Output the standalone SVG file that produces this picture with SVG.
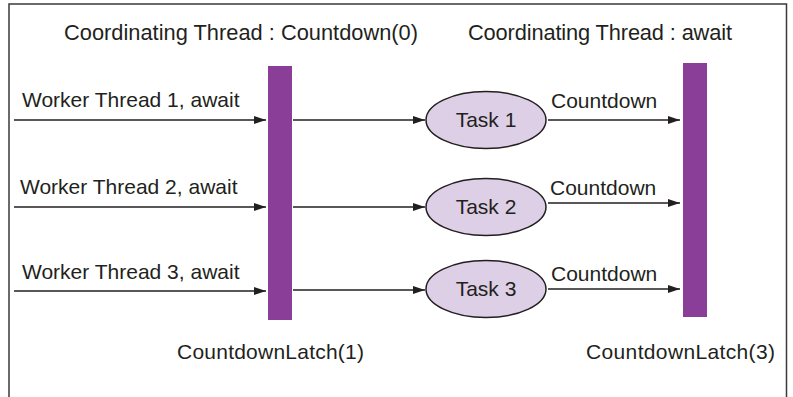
<svg xmlns="http://www.w3.org/2000/svg" width="793" height="397" viewBox="0 0 793 397">
  <style>
    text { font-family: "Liberation Sans", Arial, sans-serif; font-size: 21px; fill: #231f20; }
    .head { font-size: 21.8px; }
    .mid { text-anchor: middle; }
    .frame { fill: none; stroke: #3a3a3a; stroke-width: 1.5; }
    .latch { fill: #8b3e97; }
    .task { fill: #ddcfe6; stroke: #231f20; stroke-width: 1.5; }
    .edge { fill: none; stroke: #231f20; stroke-width: 1.5; marker-end: url(#arrow); }
  </style>
  <defs>
    <marker id="arrow" viewBox="0 0 12 8" refX="12" refY="4" markerWidth="12" markerHeight="8" markerUnits="userSpaceOnUse" orient="auto">
      <path d="M0,0 L12,4 L0,8 z" fill="#231f20"/>
    </marker>
  </defs>

  <!-- open frame: top edge plus sides running to the bottom -->
  <path class="frame" d="M9,397 V4 H786.5 V397"/>

  <!-- headings -->
  <text class="head" x="64" y="40" textLength="354">Coordinating Thread : Countdown(0)</text>
  <text class="head" x="468" y="40" textLength="264">Coordinating Thread : await</text>

  <!-- latches -->
  <g id="latch1">
    <rect class="latch" x="268" y="66" width="24" height="254"/>
    <text x="177" y="359" textLength="187">CountdownLatch(1)</text>
  </g>
  <g id="latch3">
    <rect class="latch" x="683" y="63" width="24" height="254"/>
    <text x="586" y="359" textLength="189">CountdownLatch(3)</text>
  </g>

  <!-- tasks -->
  <g id="task1">
    <ellipse class="task" cx="486" cy="120" rx="60" ry="28.5"/>
    <text class="mid" x="486" y="127">Task 1</text>
  </g>
  <g id="task2">
    <ellipse class="task" cx="486" cy="207" rx="60" ry="28.5"/>
    <text class="mid" x="486" y="214">Task 2</text>
  </g>
  <g id="task3">
    <ellipse class="task" cx="486" cy="289" rx="60" ry="28.5"/>
    <text class="mid" x="486" y="296">Task 3</text>
  </g>

  <!-- connectors -->
  <g id="connectors">
    <line class="edge" x1="14" y1="120" x2="266" y2="120"/>
    <line class="edge" x1="14" y1="207" x2="266" y2="207"/>
    <line class="edge" x1="14" y1="291" x2="266" y2="291"/>

    <line class="edge" x1="293" y1="120" x2="425" y2="120"/>
    <line class="edge" x1="293" y1="207" x2="425" y2="207"/>
    <line class="edge" x1="293" y1="290" x2="425" y2="290"/>

    <line class="edge" x1="548" y1="120" x2="680" y2="120"/>
    <line class="edge" x1="548" y1="203" x2="680" y2="203"/>
    <line class="edge" x1="548" y1="289" x2="680" y2="289"/>

    <text x="22" y="107">Worker Thread 1, await</text>
    <text x="20" y="194">Worker Thread 2, await</text>
    <text x="22" y="279">Worker Thread 3, await</text>

    <text x="551" y="108">Countdown</text>
    <text x="550" y="195">Countdown</text>
    <text x="551" y="281">Countdown</text>
  </g>
</svg>
